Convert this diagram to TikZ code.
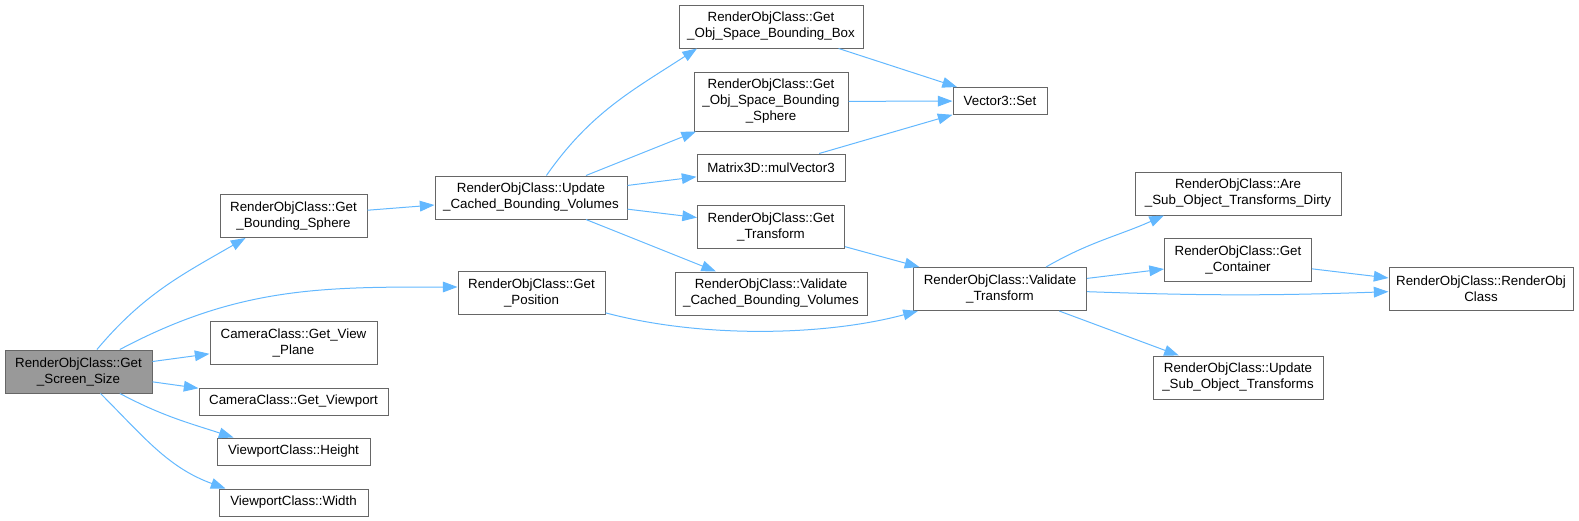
\documentclass[tikz,border=0pt]{standalone}
\usepackage{fontspec}
\setmainfont{Liberation Sans}
\usepackage{xcolor}
\usepackage{tikz}
\usetikzlibrary{arrows.meta,positioning,calc}

\definecolor{edgeblue}{HTML}{63B8FF}
\definecolor{boxgray}{HTML}{666666}
\definecolor{hlgray}{HTML}{999999}

\begin{document}
\begin{tikzpicture}[x=0.75pt,y=0.75pt,
		box/.style={draw=boxgray, line width=0.75pt, fill=white, inner sep=0pt, align=center, font=\fontsize{10}{12}\selectfont},
		sz/.style 2 args={minimum width=#1*0.75pt, minimum height=#2*0.75pt},
		edge/.style={draw=edgeblue, line width=0.75pt, -{Triangle[length=11pt,width=8pt]}}]
		\useasboundingbox (0,0) rectangle (1579,-521);

		\node[box, sz={147}{43}, fill=hlgray] (scr) at (78.5,-371.5) {RenderObjClass::Get\\\_Screen\_Size};

		\node[box, sz={147}{43}] (gbs) at (293.5,-216) {RenderObjClass::Get\\\_Bounding\_Sphere};
		\node[box, sz={167}{43}] (gvp) at (293.5,-342.5) {CameraClass::Get\_View\\\_Plane};
		\node[box, sz={189}{27}] (gvw) at (293.5,-401.5) {CameraClass::Get\_Viewport};
		\node[box, sz={153}{27}] (hgt) at (293.5,-451.5) {ViewportClass::Height};
		\node[box, sz={149}{27}] (wid) at (293.5,-502.5) {ViewportClass::Width};

		\node[box, sz={192}{43}] (ucb) at (531,-197.5) {RenderObjClass::Update\\\_Cached\_Bounding\_Volumes};
		\node[box, sz={147}{43}] (gpos) at (531.5,-293) {RenderObjClass::Get\\\_Position};

		\node[box, sz={184}{43}] (osbb) at (771,-26.5) {RenderObjClass::Get\\\_Obj\_Space\_Bounding\_Box};
		\node[box, sz={154}{59}] (osbs) at (771,-101.5) {RenderObjClass::Get\\\_Obj\_Space\_Bounding\\\_Sphere};
		\node[box, sz={148}{27}] (mulv) at (771,-167.5) {Matrix3D::mulVector3};
		\node[box, sz={147}{43}] (gtr) at (771,-226.5) {RenderObjClass::Get\\\_Transform};
		\node[box, sz={192}{43}] (vcb) at (771,-293.5) {RenderObjClass::Validate\\\_Cached\_Bounding\_Volumes};

		\node[box, sz={94}{27}] (vset) at (1000,-101) {Vector3::Set};
		\node[box, sz={173}{43}] (vtr) at (1000,-289) {RenderObjClass::Validate\\\_Transform};

		\node[box, sz={206}{43}] (dirty) at (1238,-193.5) {RenderObjClass::Are\\\_Sub\_Object\_Transforms\_Dirty};
		\node[box, sz={147}{43}] (gcont) at (1238,-260) {RenderObjClass::Get\\\_Container};
		\node[box, sz={170}{43}] (usub) at (1238,-377.5) {RenderObjClass::Update\\\_Sub\_Object\_Transforms};

		\node[box, sz={184}{43}] (ctor) at (1481,-289) {RenderObjClass::RenderObj\\Class};

		\draw[edge] (scr) to[out=50,in=210] ([xshift=-36pt]gbs.south);
		\draw[edge] (scr) to[out=28,in=180] ([yshift=4.5pt]gpos.west);
		\draw[edge] (scr) -- (gvp);
		\draw[edge] (scr) -- (gvw);
		\draw[edge] (scr) to[out=-28,in=162] ([xshift=-45pt]hgt.north);
		\draw[edge] (scr) to[out=-45,in=160] ([xshift=-51pt]wid.north);

		\draw[edge] (gbs) -- (ucb);

		\draw[edge] (ucb) to[out=55,in=213] ([xshift=-55.5pt]osbb.south);
		\draw[edge] (ucb) -- (osbs);
		\draw[edge] (ucb) -- (mulv);
		\draw[edge] (ucb) -- (gtr);
		\draw[edge] (ucb) -- (vcb);

		\draw[edge] (osbb) -- (vset);
		\draw[edge] (osbs) -- (vset);
		\draw[edge] (mulv) -- (vset);
		\draw[edge] (gtr) -- (vtr);
		\draw[edge] (gpos) to[out=-15,in=195,looseness=0.8] (vtr);

		\draw[edge] ([xshift=34.5pt]vtr.north) to[out=30,in=204] ([xshift=-55.5pt]dirty.south);
		\draw[edge] (vtr) -- (gcont);
		\draw[edge] ([yshift=-2pt]vtr.east) to[out=-2,in=182] ([yshift=-2pt]ctor.west);
		\draw[edge] (vtr) -- (usub);
		\draw[edge] (gcont) -- (ctor);
	\end{tikzpicture}
\end{document}
